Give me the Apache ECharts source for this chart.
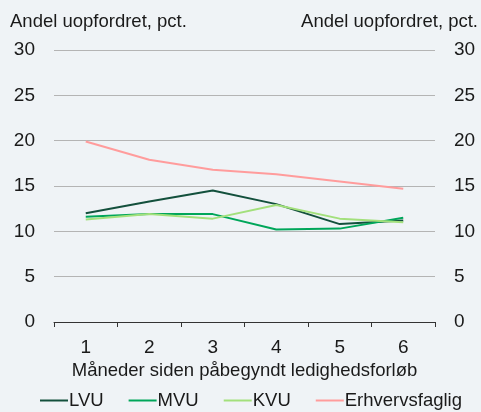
<!DOCTYPE html>
<html>
<head>
<meta charset="utf-8">
<script src="https://cdn.jsdelivr.net/npm/echarts@6/dist/echarts.min.js"></script>
<style>
  html, body { margin: 0; padding: 0; background: #eff3f6; }
  #chart { width: 481px; height: 412px; }
</style>
</head>
<body>
<div id="chart"></div>
<script>
  // data
  var months = ['1', '2', '3', '4', '5', '6'];
  var lvu = [12.0, 13.3, 14.5, 13.0, 10.8, 11.2];
  var mvu = [11.6, 11.9, 11.9, 10.2, 10.3, 11.5];
  var kvu = [11.3, 11.9, 11.4, 12.9, 11.4, 11.0];
  var erhverv = [19.9, 17.9, 16.8, 16.3, 15.5, 14.7];

  var names = ['LVU', 'MVU', 'KVU', 'Erhvervsfaglig'];
  var colors = ['#13503c', '#00a65a', '#a3e07c', '#ff9c9c'];
  var font = 'Liberation Sans, Arial, sans-serif';

  var chart = echarts.init(document.getElementById('chart'));

  function mkSeries(name, data, color) {
    return {
      name: name,
      type: 'line',
      data: data,
      showSymbol: false,
      symbol: 'none',
      lineStyle: {color: color, width: 2},
      itemStyle: {color: color},
    };
  }

  var yAxisBase = {
    type: 'value',
    min: 0,
    max: 30,
    interval: 5,
    axisLine: {show: false},
    axisTick: {show: false},
    axisLabel: {color: '#1a1a1a', fontSize: 19, fontFamily: font, margin: 19},
    splitLine: {lineStyle: {color: '#b4b4b4', width: 1}},
  };

  var option = {
    backgroundColor: '#eff3f6',
    animation: false,
    grid: {left: 54, right: 45, top: 50, bottom: 90},
    legend: {
      data: names,
      left: 35,
      top: 386,
      itemGap: 25,
      itemWidth: 28,
      itemHeight: 2,
      icon: 'rect',
      textStyle: {color: '#1a1a1a', fontSize: 18.5, fontFamily: font, padding: [0, 0, 0, -4]},
    },
    xAxis: {
      type: 'category',
      data: months,
      boundaryGap: true,
      name: 'Måneder siden påbegyndt ledighedsforløb',
      nameLocation: 'middle',
      nameGap: 39,
      nameTextStyle: {color: '#1a1a1a', fontSize: 18.5, fontFamily: font},
      axisLine: {lineStyle: {color: '#333333', width: 1}},
      axisTick: {show: true, inside: false, length: 5, lineStyle: {color: '#333333'}},
      axisLabel: {color: '#1a1a1a', fontSize: 19, fontFamily: font, margin: 16},
    },
    yAxis: [
      Object.assign({}, yAxisBase, {
        position: 'left',
        name: 'Andel uopfordret, pct.',
        nameLocation: 'end',
        nameGap: 19,
        nameTextStyle: {color: '#1a1a1a', fontSize: 18.5, fontFamily: font, align: 'left', padding: [0, 0, 0, -44]},
      }),
      Object.assign({}, yAxisBase, {
        position: 'right',
        name: 'Andel uopfordret, pct.',
        nameLocation: 'end',
        nameGap: 19,
        nameTextStyle: {color: '#1a1a1a', fontSize: 18.5, fontFamily: font, align: 'right', padding: [0, -43, 0, 0]},
        splitLine: {show: false},
      }),
    ],
    series: [
      mkSeries(names[0], lvu, colors[0]),
      mkSeries(names[1], mvu, colors[1]),
      mkSeries(names[2], kvu, colors[2]),
      mkSeries(names[3], erhverv, colors[3]),
    ],
  };

  chart.setOption(option);
</script>
</body>
</html>
